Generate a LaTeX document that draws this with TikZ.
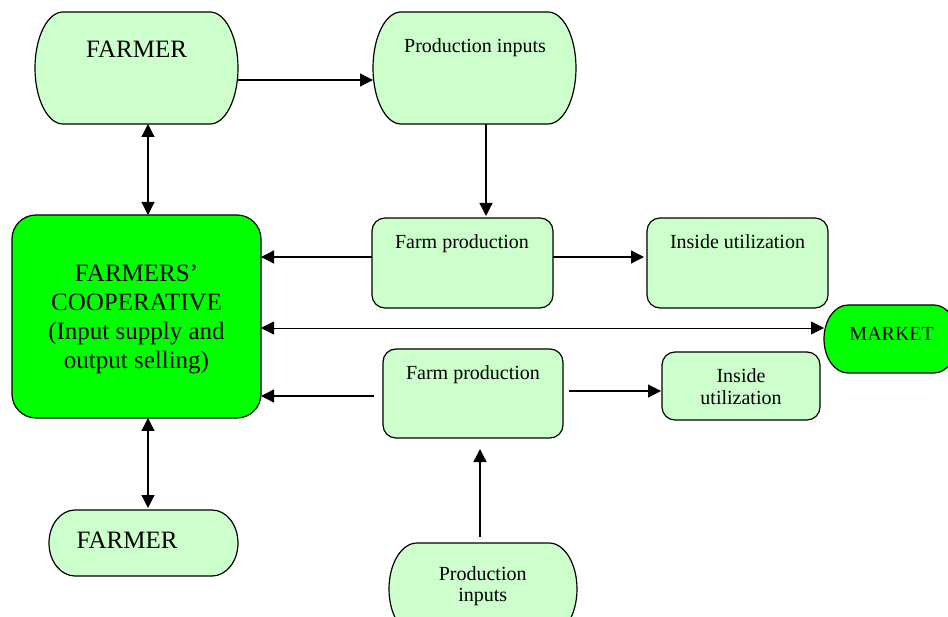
\documentclass[tikz,border=0pt]{standalone}
\usepackage{fontspec}
\setmainfont{Liberation Serif}
\usetikzlibrary{arrows.meta}
\definecolor{lgreen}{HTML}{CCFFCC}
\definecolor{bgreen}{HTML}{00FF00}
\tikzset{
  shapeline/.style={draw=black, line width=1.2pt},
  hold/.style={draw=none, inner sep=0pt, outer sep=0pt, anchor=north west},
  rbox/.style={shapeline, inner sep=0pt, outer sep=0pt, anchor=north west},
  bigtxt/.style={inner sep=0pt, align=center, font=\fontsize{25}{29}\selectfont},
  smalltxt/.style={inner sep=0pt, align=center, font=\fontsize{20}{21.5}\selectfont},
  arr/.style={line width=1.3pt, -{Triangle[length=13pt, width=13pt]}},
  darr/.style={line width=1.3pt, {Triangle[length=13pt, width=13pt]}-{Triangle[length=13pt, width=13pt]}},
}
% stadium outline: x1 y1 x2 y2 rx fill
\newcommand\stadshape[6]{%
  \pgfmathsetmacro\hh{(#4-#2)/2}%
  \draw[shapeline, fill=#6] (#3-#5,#2) arc[start angle=90, end angle=-90, x radius=#5pt, y radius=\hh pt]
    -- (#1+#5,#4) arc[start angle=270, end angle=90, x radius=#5pt, y radius=\hh pt] -- cycle;}
\begin{document}
\begin{tikzpicture}[x=1pt, y=-1pt]
\useasboundingbox (0,0) rectangle (948,617);
\clip (0,0) rectangle (948,617);

% stadium shapes
\stadshape{35}{12}{238}{124}{28}{lgreen}
\node[hold, minimum width=203pt, minimum height=112pt] (F1) at (35,12) {};
\node[bigtxt, anchor=base] (F1t) at (136.5,58) {FARMER};

\stadshape{373}{12}{576}{124}{28}{lgreen}
\node[hold, minimum width=203pt, minimum height=112pt] (P1) at (373,12) {};
\node[smalltxt, anchor=base] (P1t) at (475,53) {Production inputs};

\stadshape{824}{305}{958}{373}{24}{bgreen}
\node[hold, minimum width=134pt, minimum height=68pt] (M) at (824,305) {};
\node[smalltxt, anchor=base] (Mt) at (891.7,341) {MARKET};

\stadshape{49}{510}{238}{576}{26}{lgreen}
\node[hold, minimum width=189pt, minimum height=66pt] (F2) at (49,510) {};
\node[bigtxt, anchor=base] (F2t) at (127,548) {FARMER};

\stadshape{389}{543}{577}{635}{28}{lgreen}
\node[hold, minimum width=188pt, minimum height=92pt] (P2) at (389,543) {};
\node[smalltxt] (P2t) at (482.7,586.4) {Production\\inputs};

% rounded rectangles
\node[rbox, fill=bgreen, rounded corners=24pt, minimum width=249pt, minimum height=203pt] (C) at (12,215) {};
\node[bigtxt] (Ct) at (136.5,319) {FARMERS'\\COOPERATIVE\\(Input supply and\\output selling)};

\node[rbox, fill=lgreen, rounded corners=13pt, minimum width=181pt, minimum height=90pt] (FP1) at (372,218) {};
\node[smalltxt, anchor=base] (FP1t) at (462,249) {Farm production};

\node[rbox, fill=lgreen, rounded corners=13pt, minimum width=181pt, minimum height=90pt] (IU1) at (647,218) {};
\node[smalltxt, anchor=base] (IU1t) at (737.5,249) {Inside utilization};

\node[rbox, fill=lgreen, rounded corners=13pt, minimum width=180pt, minimum height=89pt] (FP2) at (383,349) {};
\node[smalltxt, anchor=base] (FP2t) at (473,380) {Farm production};

\node[rbox, fill=lgreen, rounded corners=13pt, minimum width=158pt, minimum height=68pt] (IU2) at (662,352) {};
\node[smalltxt] (IU2t) at (741,386.7) {Inside\\utilization};

% connectors
\draw[arr] ([yshift=-12pt]F1.east) -- ([yshift=-12pt]P1.west);
\coordinate (a0) at ([xshift=11.5pt]F1.south);
\draw[darr] (a0) -- (a0 |- C.north);
\coordinate (b0) at ([xshift=11.5pt]P1.south);
\draw[arr, shorten >=2pt] (b0) -- (b0 |- FP1.north);
\coordinate (a1) at ([yshift=6pt]FP1.west);
\draw[arr] (a1) -- (a1 -| C.east);
\coordinate (a2) at ([yshift=6pt]FP1.east);
\draw[arr, shorten >=3pt] (a2) -- (a2 -| IU1.west);
\coordinate (a3) at ([yshift=-11.5pt]C.east);
\draw[line width=0.8pt, {Triangle[length=13pt, width=13pt]}-{Triangle[length=13pt, width=13pt]}] (a3) -- (a3 -| M.west);
\coordinate (a4) at ([yshift=-2.5pt, xshift=-9pt]FP2.west);
\draw[arr] (a4) -- (a4 -| C.east);
\coordinate (a5) at ([yshift=2.5pt, xshift=6pt]FP2.east);
\draw[arr, shorten >=1pt] (a5) -- (a5 -| IU2.west);
\coordinate (a6) at ([xshift=-3pt, yshift=6pt]P2.north);
\draw[arr, shorten >=11pt] (a6) -- (a6 |- FP2.south);
\coordinate (a7) at ([xshift=11.5pt]C.south);
\draw[darr, shorten >=2pt] (a7) -- (a7 |- F2.north);
\end{tikzpicture}
\end{document}
